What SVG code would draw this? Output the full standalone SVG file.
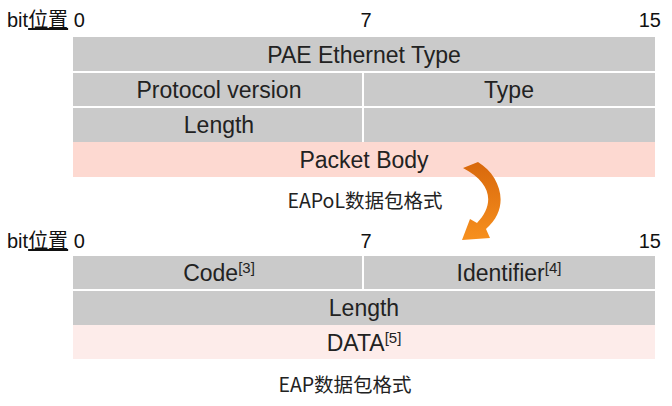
<svg xmlns="http://www.w3.org/2000/svg" width="672" height="406" viewBox="0 0 672 406">
<defs>
<style>
.cell{fill:#cacaca}
.pink{fill:#fdd9d1}
.lpink{fill:#fdecea}
.t{font-family:"Liberation Sans",Arial,sans-serif;font-size:23px;fill:#222;text-anchor:middle}
.sup{font-size:15px}
.bit{font-family:"Liberation Sans","Noto Sans CJK SC",sans-serif;font-size:20px;fill:#111}
.cap{font-family:"Noto Sans CJK SC","Noto Sans",sans-serif;font-size:19.5px;fill:#222;text-anchor:middle}
</style>
<linearGradient id="og" x1="0" y1="0" x2="0" y2="1">
<stop offset="0" stop-color="#d8680c"/>
<stop offset="1" stop-color="#f7901e"/>
</linearGradient>
</defs>
<rect width="672" height="406" fill="#ffffff"/>
<g id="scale-top">
<text class="bit" x="7" y="27">bit<tspan text-decoration="underline">位置</tspan> 0</text>
<text class="bit" x="366" y="27" text-anchor="middle">7</text>
<text class="bit" x="661" y="27" text-anchor="end">15</text>
</g>
<g id="eapol-pae"><rect class="cell" x="73" y="37" width="582" height="34"/><text class="t" x="364" y="63">PAE Ethernet Type</text></g>
<g id="eapol-version"><rect class="cell" x="73" y="73" width="289" height="33"/><text class="t" x="219" y="98">Protocol version</text></g>
<g id="eapol-type"><rect class="cell" x="364" y="73" width="291" height="33"/><text class="t" x="509" y="98">Type</text></g>
<g id="eapol-length"><rect class="cell" x="73" y="108" width="289" height="34"/><text class="t" x="219" y="133">Length</text></g>
<g id="eapol-empty"><rect class="cell" x="364" y="108" width="291" height="34"/></g>
<g id="eapol-body"><rect class="pink" x="73" y="142" width="582" height="35"/><text class="t" x="364" y="168">Packet Body</text></g>
<g id="caption-eapol"><text class="cap" x="365" y="208">EAPoL数据包格式</text></g>
<g id="connectors">
<path d="M463,168 L478,162 C501,176 511,208 486,229 L490,238 L462,240 L470,219 L477,223 C495,204 492,183 463,168 Z" fill="url(#og)"/>
</g>
<g id="scale-bottom">
<text class="bit" x="7" y="248">bit<tspan text-decoration="underline">位置</tspan> 0</text>
<text class="bit" x="366" y="248" text-anchor="middle">7</text>
<text class="bit" x="661" y="248" text-anchor="end">15</text>
</g>
<g id="eap-code"><rect class="cell" x="73" y="256" width="289" height="33"/><text class="t" x="219" y="281">Code<tspan class="sup" dy="-8">[3]</tspan></text></g>
<g id="eap-identifier"><rect class="cell" x="364" y="256" width="291" height="33"/><text class="t" x="509" y="281">Identifier<tspan class="sup" dy="-8">[4]</tspan></text></g>
<g id="eap-length"><rect class="cell" x="73" y="291" width="582" height="34"/><text class="t" x="364" y="316">Length</text></g>
<g id="eap-data"><rect class="lpink" x="73" y="325" width="582" height="34"/><text class="t" x="364" y="351">DATA<tspan class="sup" dy="-8">[5]</tspan></text></g>
<g id="caption-eap"><text class="cap" x="345" y="392">EAP数据包格式</text></g>
</svg>
